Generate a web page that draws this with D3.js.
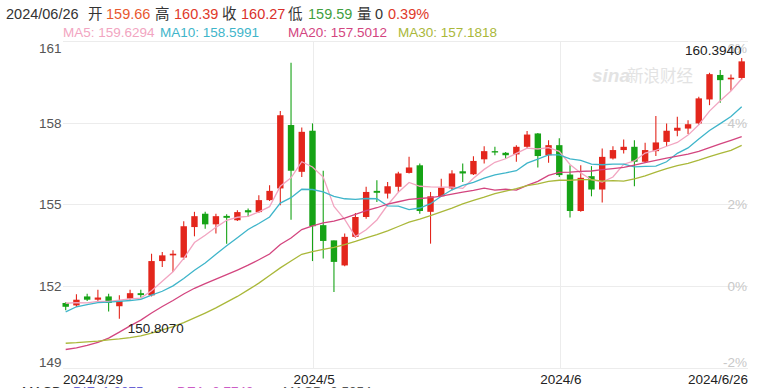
<!DOCTYPE html>
<html><head><meta charset="utf-8">
<script src="https://cdn.jsdelivr.net/npm/d3@7"></script>
<style>
body{margin:0;background:#fff;overflow:hidden;}
svg{display:block;font-family:"Liberation Sans",Arial,"Noto Sans CJK SC",sans-serif;}
</style>
</head><body><svg id="c" width="757" height="388"></svg>
<script>
const dates = ["2024-03-29",
"2024-04-01","2024-04-02","2024-04-03","2024-04-04","2024-04-05","2024-04-08","2024-04-09","2024-04-10","2024-04-11","2024-04-12",
"2024-04-15","2024-04-16","2024-04-17","2024-04-18","2024-04-19","2024-04-22","2024-04-23","2024-04-24","2024-04-25","2024-04-26",
"2024-04-29","2024-04-30",
"2024-05-01","2024-05-02","2024-05-03","2024-05-06","2024-05-07","2024-05-08","2024-05-09","2024-05-10","2024-05-13","2024-05-14",
"2024-05-15","2024-05-16","2024-05-17","2024-05-20","2024-05-21","2024-05-22","2024-05-23","2024-05-24","2024-05-27","2024-05-28",
"2024-05-29","2024-05-30","2024-05-31",
"2024-06-03","2024-06-04","2024-06-05","2024-06-06","2024-06-07","2024-06-10","2024-06-11","2024-06-12","2024-06-13","2024-06-14",
"2024-06-17","2024-06-18","2024-06-19","2024-06-20","2024-06-21","2024-06-24","2024-06-25","2024-06-26"];

const open  = [151.39,151.30,151.63,151.51,151.63,151.27,151.55,151.75,151.67,152.93,153.14,153.06,154.18,154.67,154.28,154.59,154.43,154.80,154.73,155.17,155.60,157.93,156.21,157.72,154.25,153.69,152.77,153.82,154.55,155.51,155.41,155.66,156.17,156.45,154.74,155.31,155.60,156.23,156.12,156.67,156.97,156.91,156.85,157.13,157.62,156.82,157.19,156.11,154.77,156.05,155.56,156.70,157.01,157.13,156.58,156.97,157.31,157.72,157.80,157.99,158.87,159.77,159.61,159.66];
const high  = [151.42,151.71,151.73,151.88,151.73,151.67,151.88,151.88,153.20,153.26,153.33,154.39,154.74,154.74,154.67,154.65,154.80,154.86,155.35,155.72,158.45,160.22,157.84,157.99,156.25,153.69,153.94,154.70,155.66,155.90,155.84,156.21,156.76,156.52,155.47,155.96,156.27,156.52,156.78,157.15,157.13,156.94,157.19,157.71,157.64,157.37,157.44,156.45,156.45,156.42,157.07,157.15,157.40,157.37,157.28,158.26,157.99,158.23,158.11,158.97,159.85,159.95,159.79,160.394];
const low   = [151.12,151.24,151.46,151.46,151.08,150.807,151.51,151.59,151.63,152.71,152.53,152.98,153.84,154.12,153.94,153.57,154.40,154.55,154.70,155.14,154.98,154.45,156.02,152.93,153.02,151.79,152.74,153.79,154.49,155.10,155.23,155.47,156.15,154.67,153.57,155.29,155.53,155.84,156.09,156.52,156.82,156.70,156.58,157.07,156.37,156.54,156.02,154.53,154.74,155.31,155.08,156.66,156.88,155.68,156.54,156.79,157.15,157.52,157.60,157.93,158.66,158.75,159.19,159.59];
const close = [151.25,151.51,151.51,151.59,151.39,151.46,151.75,151.68,152.93,153.14,153.20,154.21,154.58,154.28,154.58,154.52,154.73,154.72,155.17,155.51,158.29,156.25,157.68,154.21,153.67,152.90,153.82,154.55,155.47,155.44,155.68,156.15,156.37,154.77,155.31,155.63,156.15,156.15,156.61,156.97,156.92,156.82,157.13,157.58,156.79,157.19,156.09,154.77,155.99,155.56,156.76,157.01,157.13,156.58,157.01,157.29,157.72,157.83,157.96,158.91,159.80,159.58,159.67,160.27];

const ma5  = [151.38,151.40,151.39,151.45,151.45,151.49,151.54,151.57,151.84,152.19,152.54,153.03,153.61,153.88,154.17,154.43,154.54,154.57,154.74,154.93,155.68,155.99,156.58,156.39,156.02,154.94,154.46,153.83,154.08,154.44,154.99,155.46,155.82,155.68,155.66,155.65,155.65,155.60,155.97,156.30,156.56,156.69,156.89,157.08,157.05,157.10,156.96,156.48,156.17,155.92,155.83,156.02,156.49,156.61,156.90,157.00,157.15,157.29,157.56,157.94,158.44,158.82,159.18,159.63];
const ma10 = [151.06,151.25,151.33,151.40,151.42,151.45,151.48,151.52,151.68,151.82,152.02,152.29,152.59,152.86,153.18,153.49,153.79,154.09,154.31,154.55,155.06,155.26,155.57,155.56,155.47,155.31,155.22,155.20,155.23,155.22,154.96,154.95,154.82,154.88,155.04,155.31,155.55,155.71,155.82,155.98,156.10,156.17,156.25,156.53,156.68,156.83,156.83,156.69,156.63,156.49,156.47,156.49,156.49,156.39,156.41,156.42,156.58,156.89,157.09,157.42,157.73,157.98,158.24,158.60];
const ma20 = [149.68,149.74,149.83,149.94,150.10,150.32,150.55,150.76,151.02,151.26,151.48,151.72,151.93,152.10,152.27,152.43,152.60,152.78,152.98,153.19,153.54,153.78,154.09,154.22,154.33,154.40,154.51,154.65,154.78,154.89,155.02,155.11,155.20,155.23,155.26,155.32,155.39,155.46,155.53,155.61,155.54,155.57,155.54,155.71,155.86,156.08,156.19,156.20,156.23,156.24,156.29,156.33,156.37,156.46,156.55,156.63,156.71,156.79,156.86,156.96,157.10,157.24,157.37,157.50];
const ma30 = [149.91,149.93,149.96,149.99,150.03,150.07,150.12,150.18,150.28,150.40,150.52,150.67,150.84,151.02,151.21,151.42,151.63,151.87,152.12,152.40,152.68,152.93,153.18,153.28,153.36,153.43,153.53,153.65,153.78,153.90,154.04,154.20,154.36,154.47,154.60,154.74,154.88,155.03,155.16,155.28,155.41,155.50,155.59,155.70,155.77,155.86,155.90,155.90,155.92,155.92,155.87,155.89,155.87,155.95,156.06,156.20,156.33,156.44,156.52,156.64,156.77,156.89,157.00,157.18];

const yTicks = [149,152,155,158,161];
const pctTicks = ["-2%","0%","2%","4%","6%"];
const xTickDates = ["2024-03-29","2024-05-01","2024-06-03","2024-06-26"];
const xTickLabels = ["2024/3/29","2024/5","2024/6","2024/6/26"];
const maNames = ["MA5","MA10","MA20","MA30"];
const maLast = ["159.6294","158.5991","157.5012","157.1818"];
const maxLabel = "160.3940", minLabel = "150.8070";

const headerItems = [
 {t:"2024/06/26",c:"#333"},{t:"开",c:"#333"},{t:"159.66",c:"#e8582f"},
 {t:"高",c:"#333"},{t:"160.39",c:"#e0392a"},{t:"收",c:"#333"},{t:"160.27",c:"#d9302a"},
 {t:"低",c:"#333"},{t:"159.59",c:"#3f9f3f"},{t:"量",c:"#333"},{t:"0",c:"#333"},{t:"0.39%",c:"#e0392a"}];
const headerX = [6,88,106,155,174,222,241,288,308,357,375,388];
const macdItems = [{t:"MACD",c:"#333"},{t:"DIF: 1.0075",c:"#6a62d4"},{t:"DEA: 0.7749",c:"#cc5cc6"},{t:"MACD: 0.5054",c:"#555"}];
const macdX = [22,73,177,283];

const UP="#e3261c", DOWN="#16a316";
const maColors = ["#f2a5c1","#3fb5ca","#d3457f","#aab83a"];

const svg = d3.select("#c");
const L=63, R=748;
const x = d3.scaleLinear().domain([0, dates.length-1]).range([65.7, 741.7]);
const y = d3.scaleLinear().domain([149,161]).range([368,41.5]);
const idx = d => dates.indexOf(d);

// gridlines
svg.append("g").selectAll("line").data(yTicks).join("line")
  .attr("x1",L).attr("x2",R).attr("y1",d=>y(d)).attr("y2",d=>y(d))
  .attr("stroke","#ececec").attr("stroke-width",1).attr("shape-rendering","crispEdges");
svg.append("g").selectAll("line").data(xTickDates.slice(1,3)).join("line")
  .attr("x1",d=>x(idx(d))+1.5).attr("x2",d=>x(idx(d))+1.5).attr("y1",y(161)).attr("y2",y(149))
  .attr("stroke","#ececec").attr("stroke-width",1).attr("shape-rendering","crispEdges");

// watermark
const wm = svg.append("g").attr("fill","#e3e3e3");
wm.append("text").attr("x",592).attr("y",82).attr("font-size",19).attr("font-weight","bold").attr("font-style","italic").text("sina");
wm.append("text").attr("x",627).attr("y",82).attr("font-size",16.5).attr("font-family","Noto Sans CJK SC").text("新浪财经");

// left axis labels
const yl = svg.append("g").attr("font-size",13.5).attr("fill","#555").attr("text-anchor","end");
yl.selectAll("text").data(yTicks).join("text")
  .attr("x",61.5)
  .attr("y",d=> d===161 ? y(d)+11 : d===149 ? y(d)-1.5 : y(d)+4.7)
  .text(d=>d);
// right axis labels
const yr = svg.append("g").attr("font-size",13.5).attr("fill","#c8c8c8").attr("text-anchor","end");
yr.selectAll("text").data(yTicks).join("text")
  .attr("x",747)
  .attr("y",(d)=> d===161 ? y(d)+11 : d===149 ? y(d)-1.5 : y(d)+4.7)
  .text((d,i)=>pctTicks[i]);

// candles
const cw = 6.4;
const cg = svg.append("g");
dates.forEach((d,i)=>{
  const up = close[i] >= open[i];
  const col = up?UP:DOWN;
  cg.append("line").attr("x1",x(i)).attr("x2",x(i)).attr("y1",y(high[i])).attr("y2",y(low[i]))
    .attr("stroke",col).attr("stroke-width",1.1);
  const top = y(Math.max(open[i],close[i])), bot = y(Math.min(open[i],close[i]));
  cg.append("rect").attr("x",x(i)-cw/2).attr("width",cw).attr("y",top).attr("height",Math.max(1.2,bot-top)).attr("fill",col);
});

// MA lines
[ma5,ma10,ma20,ma30].forEach((arr,k)=>{
  svg.append("path").datum(arr).attr("fill","none").attr("stroke",maColors[k]).attr("stroke-width",1.3)
    .attr("d",d3.line().x((v,i)=>x(i)).y(v=>y(v)));
});

// max / min labels
const iMax = high.indexOf(d3.max(high)), iMin = low.indexOf(d3.min(low));
svg.append("text").attr("x",x(iMax)).attr("y",y(high[iMax])-3).attr("text-anchor","end")
  .attr("font-size",13.6).attr("fill","#222").text(maxLabel);
svg.append("text").attr("x",x(iMin)+8.5).attr("y",y(low[iMin])+14).attr("text-anchor","start")
  .attr("font-size",13.4).attr("fill","#222").text(minLabel);

// x labels
const xl = svg.append("g").attr("font-size",13.5).attr("fill","#222");
xTickDates.forEach((d,k)=>{
  const t = xl.append("text").attr("y",383.5).text(xTickLabels[k]);
  if(k===0) t.attr("x",L).attr("text-anchor","start");
  else if(k===xTickDates.length-1) t.attr("x",R).attr("text-anchor","end");
  else t.attr("x",x(idx(d))+1.7).attr("text-anchor","middle");
});

// header
const hg = svg.append("g").attr("font-size",14.5);
headerItems.forEach((h,k)=>hg.append("text").attr("x",headerX[k]).attr("y",18.5).attr("fill",h.c).text(h.t));
const mg = svg.append("g").attr("font-size",13.5);
const maX = [63,160,288,398];
maNames.forEach((n,k)=>mg.append("text").attr("x",maX[k]).attr("y",37).attr("fill",maColors[k]).text(n+": "+maLast[k]));

// MACD line (cut off at bottom, as in the reference)
const bg = svg.append("g").attr("font-size",13.5);
macdItems.forEach((m,k)=>bg.append("text").attr("x",macdX[k]).attr("y",395.5).attr("fill",m.c).text(m.t));
</script>
</body></html>
